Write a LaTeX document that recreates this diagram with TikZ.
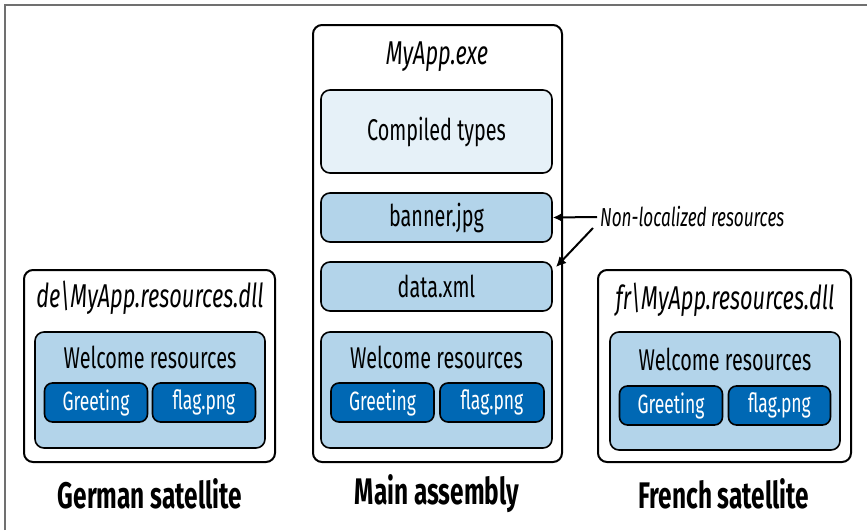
\documentclass[tikz,border=0pt]{standalone}
\usepackage{fontspec}
\setmainfont{Fira Sans}[FakeStretch=0.66]
\usetikzlibrary{arrows.meta}
\definecolor{palebox}{HTML}{E6F1F8}
\definecolor{midbox}{HTML}{B3D4EA}
\definecolor{darkbox}{HTML}{0068B4}
\definecolor{framegray}{HTML}{707070}
\tikzset{
  outerbox/.style={draw=black, line width=2pt, rounded corners=9pt, fill=white, inner sep=0pt},
  palefill/.style={draw=black, line width=1.6pt, rounded corners=9pt, fill=palebox, inner sep=0pt, font=\fontsize{30}{34}\selectfont},
  midfill/.style={draw=black, line width=1.6pt, rounded corners=9pt, fill=midbox, inner sep=0pt, font=\fontsize{30}{34}\selectfont},
  darkfill/.style={draw=black, line width=1.6pt, rounded corners=8pt, fill=darkbox, text=white, inner sep=0pt, minimum width=103pt, minimum height=39pt, font=\fontsize{26.5}{30}\selectfont},
  titletext/.style={inner sep=0pt, font=\fontsize{33}{36}\selectfont\itshape},
  plaintext/.style={inner sep=0pt, font=\fontsize{30}{34}\selectfont},
  captiontext/.style={inner sep=0pt, font=\fontsize{37}{40}\selectfont\bfseries},
  notetext/.style={inner sep=0pt, font=\fontsize{26}{30}\selectfont\itshape},
  pointer/.style={draw=black, line width=2pt, -{Latex[length=10pt,width=10pt]}}
}
\begin{document}
\begin{tikzpicture}[x=1pt,y=-1pt]
\useasboundingbox (0,0) rectangle (867,530);
% frame (top and left only)
\draw[framegray, line width=2pt] (5,530) -- (5,5) -- (867,5);

% Main assembly
\node[outerbox, minimum width=249pt, minimum height=437pt] (main) at (437.5,243.5) {};
\node[titletext] (maintitle) at (437,57) {MyApp.exe};
\node[palefill, minimum width=231pt, minimum height=83pt] (compiled) at (436.5,131.5) {Compiled types};
\node[midfill, minimum width=231pt, minimum height=49pt] (banner) at (436.5,217.5) {banner.jpg};
\node[midfill, minimum width=231pt, minimum height=49pt] (data) at (436.5,286.5) {data.xml};
\node[midfill, minimum width=231pt, minimum height=116pt] (mainwel) at (436.5,390) {};
\node[plaintext] (mainweltext) at (436.5,357) {Welcome resources};
\node[darkfill] (maingreet) at (382.5,402.5) {Greeting};
\node[darkfill, minimum width=104pt] (mainflag) at (492,402.5) {flag.png};

% German satellite
\node[outerbox, minimum width=251pt, minimum height=192pt] (de) at (149.5,366) {};
\node[titletext] (detitle) at (150,298) {de\textbackslash MyApp.resources.dll};
\node[midfill, minimum width=230pt, minimum height=116pt] (dewel) at (150,390) {};
\node[plaintext] (deweltext) at (150,357) {Welcome resources};
\node[darkfill] (degreet) at (96,402.5) {Greeting};
\node[darkfill] (deflag) at (204,402.5) {flag.png};

% French satellite
\node[outerbox, minimum width=253pt, minimum height=192pt] (fr) at (724.5,366) {};
\node[titletext] (frtitle) at (725,300) {fr\textbackslash MyApp.resources.dll};
\node[midfill, minimum width=230pt, minimum height=118pt] (frwel) at (725,391) {};
\node[plaintext] (frweltext) at (725,359) {Welcome resources};
\node[darkfill] (frgreet) at (671,405.5) {Greeting};
\node[darkfill, minimum width=102pt] (frflag) at (779.5,405.5) {flag.png};

% captions
\node[captiontext] (decap) at (150,494) {German satellite};
\node[captiontext] (maincap) at (437,494) {Main assembly};
\node[captiontext] (frcap) at (724,494) {French satellite};

% note and arrows
\node[notetext, anchor=west] (note) at (600,217) {Non-localized resources};
\coordinate (notea) at (597,217);
\coordinate (noteb) at (593,228);
\coordinate (datatip) at (556,267);
\draw[pointer] (notea) -- (banner.east);
\draw[pointer] (noteb) -- (datatip);
\end{tikzpicture}
\end{document}
